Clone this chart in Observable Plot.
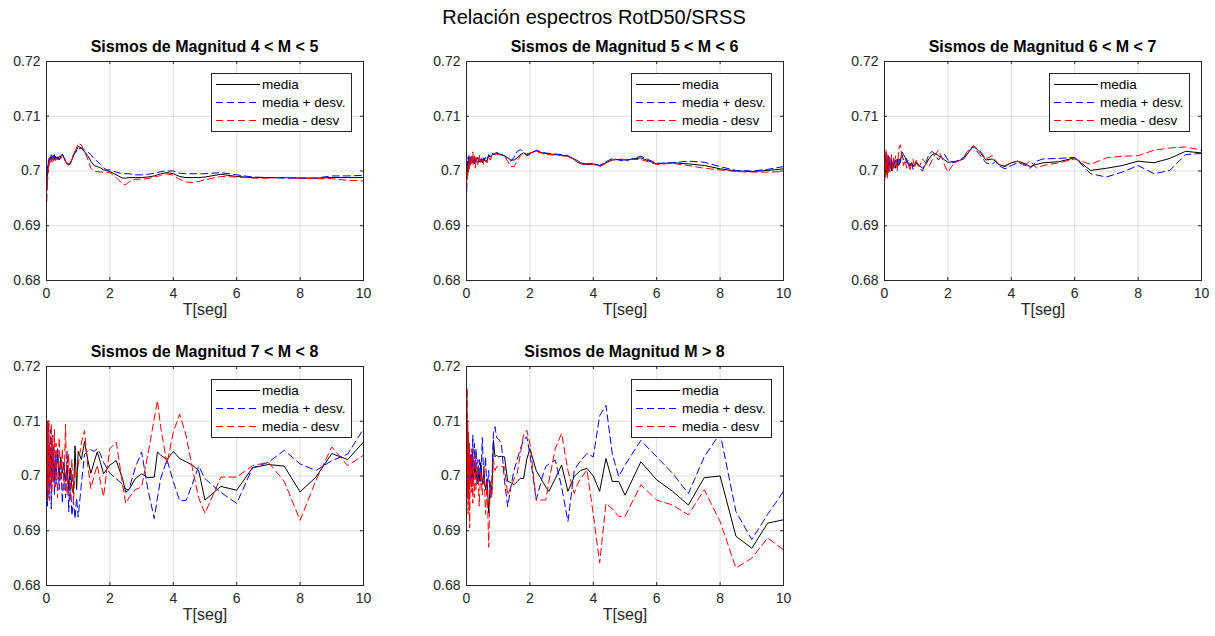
<!DOCTYPE html>
<html><head><meta charset="utf-8">
<script src="https://cdn.jsdelivr.net/npm/d3@7"></script>
<script src="https://cdn.jsdelivr.net/npm/@observablehq/plot@0.6"></script>
<style>
body{margin:0;background:#fff;font-family:"Liberation Sans",Arial,Helvetica,sans-serif;}
#root{position:relative;width:1215px;height:636px;overflow:hidden;background:#fff}
.main{position:absolute;font-size:20px;color:#000;white-space:nowrap;line-height:24px;transform:translateX(-50%)}
.ptitle{position:absolute;font-weight:bold;font-size:16px;color:#000;white-space:nowrap;line-height:18px;transform:translateX(-50%)}
.legend{position:absolute;width:139px;height:57px;border:1px solid #262626;background:#fff;}
.legend svg{position:absolute;left:0;top:0}
</style></head><body><div id="root"></div>
<script>
// ---------- data ----------
const T = [0.01,0.02,0.03,0.04,0.05,0.06,0.075,0.09,0.1,0.12,0.15,0.17,0.2,0.22,0.25,0.28,0.3,0.35,0.4,0.45,0.5,0.55,0.6,0.65,0.7,0.75,0.8,0.85,0.9,0.95,1.0,1.1,1.2,1.3,1.4,1.5,1.6,1.7,1.8,1.9,2.0,2.2,2.4,2.5,2.6,2.8,3.0,3.2,3.4,3.5,3.6,3.8,4.0,4.2,4.4,4.6,4.8,5.0,5.5,6.0,6.5,7.0,7.5,8.0,8.5,9.0,9.5,10];
const xTicks = [0,2,4,6,8,10];
const yTicks = [0.68,0.69,0.7,0.71,0.72];
const seriesNames = ["media","media + desv.","media - desv"];
const mainTitle = "Relación espectros RotD50/SRSS";
const panelTitles = ["Sismos de Magnitud 4 < M < 5","Sismos de Magnitud 5 < M < 6","Sismos de Magnitud 6 < M < 7","Sismos de Magnitud 7 < M < 8","Sismos de Magnitud M > 8"];
const xLabel = "T[seg]";

// M 4-5
const media45 = [0.6965,0.6985,0.6995,0.7000,0.7005,0.7012,0.7018,0.7015,0.7022,0.7025,0.7018,0.7026,0.7022,0.7028,0.7020,0.7027,0.7021,0.7026,0.7020,0.7028,0.7030,0.7025,0.7018,0.7015,0.7012,0.7013,0.7020,0.7028,0.7033,0.7038,0.7045,0.7042,0.7035,0.7028,0.7018,0.7010,0.7008,0.7006,0.7002,0.7001,0.6999,0.6993,0.6987,0.6987,0.6988,0.6988,0.6988,0.6989,0.6991,0.6993,0.6995,0.6997,0.6995,0.6990,0.6988,0.6988,0.6988,0.6989,0.6994,0.6990,0.6988,0.6988,0.6988,0.6987,0.6987,0.6988,0.6988,0.6988];
const mas45 = [0.6975,0.6992,0.7005,0.7012,0.7008,0.7020,0.7025,0.7016,0.7027,0.7022,0.7030,0.7020,0.7028,0.7022,0.7030,0.7020,0.7026,0.7022,0.7027,0.7025,0.7031,0.7024,0.7019,0.7016,0.7012,0.7014,0.7022,0.7030,0.7036,0.7035,0.7040,0.7042,0.7038,0.7035,0.7030,0.7022,0.7018,0.7012,0.7006,0.7002,0.7002,0.6998,0.6995,0.6995,0.6995,0.6993,0.6993,0.6994,0.6996,0.6997,0.6999,0.7000,0.7000,0.6996,0.6995,0.6995,0.6995,0.6995,0.6997,0.6993,0.6989,0.6988,0.6987,0.6987,0.6987,0.6991,0.6991,0.6992];
const menos45 = [0.6945,0.6965,0.6990,0.6985,0.7003,0.6998,0.7015,0.7008,0.7020,0.7015,0.7024,0.7016,0.7025,0.7018,0.7026,0.7019,0.7024,0.7020,0.7025,0.7022,0.7029,0.7023,0.7017,0.7012,0.7010,0.7012,0.7021,0.7030,0.7036,0.7042,0.7050,0.7048,0.7035,0.7022,0.7005,0.6999,0.6999,0.6998,0.6998,0.6998,0.6997,0.6988,0.6976,0.6975,0.6980,0.6985,0.6985,0.6986,0.6989,0.6990,0.6992,0.6995,0.6992,0.6985,0.6980,0.6979,0.6981,0.6984,0.6990,0.6989,0.6987,0.6987,0.6988,0.6987,0.6986,0.6986,0.6983,0.6982];

// M 5-6
const media56 = [0.6985,0.6995,0.7008,0.7015,0.7010,0.7018,0.7012,0.7020,0.7015,0.7025,0.7017,0.7023,0.7015,0.7020,0.7013,0.7022,0.7018,0.7025,0.7016,0.7022,0.7015,0.7024,0.7018,0.7020,0.7028,0.7025,0.7030,0.7032,0.7030,0.7033,0.7032,0.7030,0.7028,0.7024,0.7020,0.7020,0.7024,0.7030,0.7033,0.7030,0.7032,0.7037,0.7033,0.7032,0.7031,0.7030,0.7029,0.7027,0.7022,0.7019,0.7015,0.7012,0.7013,0.7010,0.7015,0.7020,0.7021,0.7020,0.7024,0.7013,0.7015,0.7013,0.7010,0.7004,0.7000,0.6999,0.7001,0.7004];
const mas56 = [0.6995,0.7008,0.7018,0.7012,0.7025,0.7015,0.7028,0.7016,0.7022,0.7012,0.7026,0.7018,0.7026,0.7014,0.7024,0.7016,0.7022,0.7014,0.7024,0.7017,0.7026,0.7018,0.7025,0.7020,0.7030,0.7026,0.7033,0.7030,0.7032,0.7034,0.7033,0.7030,0.7027,0.7022,0.7018,0.7025,0.7036,0.7039,0.7036,0.7028,0.7030,0.7038,0.7034,0.7033,0.7032,0.7031,0.7030,0.7028,0.7020,0.7016,0.7014,0.7013,0.7014,0.7010,0.7017,0.7023,0.7020,0.7018,0.7027,0.7014,0.7015,0.7018,0.7016,0.7008,0.7001,0.7000,0.7003,0.7008];
const menos56 = [0.6965,0.6985,0.7000,0.6992,0.7010,0.6998,0.7015,0.7003,0.7022,0.7008,0.7030,0.7010,0.7035,0.7012,0.7028,0.7005,0.7025,0.7010,0.7030,0.7014,0.7022,0.7012,0.7020,0.7015,0.7025,0.7020,0.7028,0.7030,0.7029,0.7031,0.7030,0.7029,0.7026,0.7018,0.7008,0.7008,0.7018,0.7028,0.7032,0.7031,0.7033,0.7036,0.7032,0.7030,0.7030,0.7029,0.7028,0.7026,0.7021,0.7018,0.7013,0.7011,0.7012,0.7008,0.7014,0.7021,0.7022,0.7021,0.7021,0.7012,0.7014,0.7010,0.7005,0.7002,0.6999,0.6998,0.6998,0.6999];

// M 6-7
const media67 = [0.7005,0.6995,0.7025,0.6992,0.7020,0.7000,0.7015,0.6998,0.7022,0.7002,0.7020,0.7005,0.7018,0.7000,0.7015,0.7008,0.7020,0.7005,0.7022,0.7010,0.7018,0.7035,0.7030,0.7025,0.7022,0.7012,0.7010,0.7015,0.7008,0.7012,0.7017,0.7010,0.7005,0.7012,0.7022,0.7030,0.7032,0.7028,0.7025,0.7020,0.7016,0.7017,0.7020,0.7022,0.7030,0.7046,0.7035,0.7020,0.7022,0.7018,0.7012,0.7008,0.7015,0.7018,0.7014,0.7008,0.7012,0.7015,0.7017,0.7024,0.7001,0.7005,0.7010,0.7018,0.7015,0.7023,0.7036,0.7033];
const mas67 = [0.7020,0.6990,0.7010,0.7035,0.6998,0.7025,0.6995,0.7020,0.7008,0.7028,0.6998,0.7025,0.7005,0.7022,0.7000,0.7018,0.7005,0.7020,0.7008,0.7025,0.7015,0.7030,0.7020,0.7025,0.7015,0.7020,0.7008,0.7018,0.7003,0.7010,0.7015,0.7005,0.7000,0.7015,0.7030,0.7036,0.7030,0.7020,0.7028,0.7030,0.7020,0.7015,0.7022,0.7025,0.7032,0.7044,0.7030,0.7015,0.7012,0.7018,0.7010,0.7004,0.7010,0.7015,0.7012,0.7005,0.7018,0.7022,0.7023,0.7025,0.6995,0.6989,0.6998,0.7010,0.6995,0.7001,0.7030,0.7032];
const menos67 = [0.6985,0.7030,0.6990,0.7015,0.7040,0.6995,0.7028,0.6985,0.7030,0.6995,0.7025,0.6998,0.7020,0.7030,0.7000,0.7025,0.7010,0.7028,0.7000,0.7040,0.7048,0.7025,0.7010,0.7020,0.7005,0.7015,0.7000,0.7012,0.7022,0.7005,0.7020,0.7008,0.7022,0.7015,0.7008,0.7020,0.7030,0.7038,0.7025,0.7010,0.6998,0.7015,0.7020,0.7025,0.7035,0.7046,0.7038,0.7022,0.7028,0.7020,0.7012,0.7010,0.7015,0.7018,0.7010,0.7018,0.7005,0.7010,0.7015,0.7022,0.7012,0.7024,0.7027,0.7028,0.7038,0.7042,0.7044,0.7038];

// M 7-8
const media78 = [0.7010,0.7040,0.6990,0.7035,0.7000,0.7045,0.7005,0.7030,0.6985,0.7040,0.7005,0.7050,0.7010,0.7035,0.6995,0.7030,0.7010,0.7040,0.7000,0.7035,0.7005,0.7025,0.6990,0.7020,0.6975,0.7015,0.6980,0.6968,0.7055,0.6975,0.7045,0.7030,0.7063,0.7030,0.7005,0.7025,0.7044,0.7025,0.7004,0.7012,0.7020,0.7028,0.6995,0.6970,0.6975,0.6995,0.7004,0.6997,0.6998,0.7044,0.7038,0.7030,0.7045,0.7032,0.7026,0.7020,0.7010,0.6956,0.6981,0.6974,0.7015,0.7021,0.7018,0.6971,0.6998,0.7041,0.7030,0.7062];
const mas78 = [0.6960,0.7095,0.6945,0.7080,0.6990,0.7098,0.6960,0.7060,0.6975,0.7085,0.6940,0.7070,0.6990,0.7055,0.6965,0.7040,0.6985,0.7050,0.6975,0.7030,0.6950,0.7020,0.6960,0.7045,0.6935,0.7000,0.6928,0.6955,0.6922,0.6960,0.6925,0.6985,0.7040,0.7045,0.7048,0.7045,0.7050,0.7040,0.7025,0.7015,0.7005,0.6995,0.6985,0.6976,0.6975,0.7015,0.7044,0.6975,0.6922,0.6960,0.6995,0.7030,0.6990,0.6955,0.6955,0.6985,0.7018,0.6995,0.6970,0.6950,0.7015,0.7025,0.7047,0.7022,0.7010,0.7028,0.7040,0.7086];
const menos78 = [0.7050,0.6960,0.7100,0.6975,0.7080,0.6990,0.7102,0.6955,0.7060,0.6985,0.7095,0.6970,0.7075,0.6990,0.7085,0.6980,0.7060,0.6960,0.7070,0.6990,0.7050,0.6975,0.7095,0.6965,0.7040,0.6955,0.7030,0.6950,0.7010,0.7000,0.7020,0.7060,0.7083,0.7020,0.6977,0.7000,0.7020,0.6990,0.6962,0.7010,0.7050,0.7062,0.6985,0.6950,0.6960,0.6975,0.6980,0.7040,0.7105,0.7138,0.7090,0.7022,0.7080,0.7113,0.7075,0.7015,0.6960,0.6932,0.6998,0.6998,0.7019,0.7025,0.6990,0.6919,0.6992,0.7053,0.7019,0.7038];

// M > 8
const media8 = [0.6990,0.7060,0.6975,0.7040,0.6985,0.7050,0.6995,0.7030,0.6980,0.7025,0.7000,0.7035,0.6985,0.7020,0.7005,0.7030,0.6995,0.7015,0.6990,0.7025,0.6985,0.7005,0.6975,0.6995,0.6932,0.6985,0.6975,0.7065,0.7035,0.7038,0.7035,0.7036,0.7035,0.6990,0.6988,0.6984,0.6990,0.6996,0.6995,0.7030,0.7050,0.7010,0.6990,0.6980,0.6972,0.6995,0.7020,0.6972,0.6999,0.7005,0.7010,0.7014,0.7000,0.6972,0.7032,0.6990,0.6990,0.6965,0.7026,0.6993,0.6972,0.6947,0.6997,0.7000,0.6890,0.6868,0.6914,0.6920];
const mas8 = [0.7140,0.6985,0.7100,0.6960,0.7070,0.6990,0.7060,0.6975,0.7050,0.6995,0.7040,0.6980,0.7075,0.6995,0.7060,0.7000,0.7050,0.6985,0.7030,0.6990,0.7070,0.6985,0.7035,0.6970,0.7010,0.6960,0.6985,0.7080,0.7090,0.7070,0.7068,0.7060,0.6990,0.6944,0.6980,0.7011,0.7030,0.7050,0.7065,0.7072,0.7040,0.6956,0.7000,0.7017,0.7022,0.7029,0.6980,0.6917,0.7010,0.7020,0.7028,0.7041,0.7035,0.7110,0.7129,0.7040,0.6999,0.7020,0.7065,0.7035,0.7005,0.6968,0.7035,0.7078,0.6935,0.6884,0.6930,0.6972];
const menos8 = [0.7005,0.7160,0.6960,0.7100,0.6930,0.7080,0.6950,0.7060,0.6905,0.7040,0.6970,0.7050,0.6950,0.7025,0.6960,0.7040,0.6975,0.7030,0.6945,0.7010,0.6965,0.7020,0.6930,0.6990,0.6870,0.6990,0.6960,0.7030,0.7010,0.7017,0.7017,0.7017,0.7017,0.6965,0.6980,0.6995,0.7005,0.7040,0.7075,0.7084,0.7060,0.6956,0.6956,0.6956,0.6990,0.7050,0.7078,0.7010,0.6968,0.6985,0.6995,0.7011,0.6930,0.6841,0.6950,0.6940,0.6926,0.6926,0.6984,0.6956,0.6947,0.6929,0.6975,0.6917,0.6832,0.6850,0.6887,0.6865];

// ---------- layout ----------
const FONT = '"Liberation Sans", Arial, Helvetica, sans-serif';
const IW = 317, IH = 219;
const ML = 46, MR = 14, MT = 10, MB = 45;
const panels = [
  {title: panelTitles[0], media: media45, mas: mas45, menos: menos45, fx: 46, fy: 61},
  {title: panelTitles[1], media: media56, mas: mas56, menos: menos56, fx: 466, fy: 61},
  {title: panelTitles[2], media: media67, mas: mas67, menos: menos67, fx: 884, fy: 61},
  {title: panelTitles[3], media: media78, mas: mas78, menos: menos78, fx: 46, fy: 366},
  {title: panelTitles[4], media: media8, mas: mas8, menos: menos8, fx: 466, fy: 366}
];
const colors = ["#000000", "#0000ff", "#ff0000"];
const dashes = [null, "7,4", "7,4"];

const root = document.getElementById("root");

const mt = document.createElement("div");
mt.className = "main";
mt.textContent = mainTitle;
mt.style.left = "594px";
mt.style.top = "5px";
root.appendChild(mt);

for (const p of panels) {
  const data = T.map((t, i) => ({t, media: p.media[i], mas: p.mas[i], menos: p.menos[i]}));
  const chart = Plot.plot({
    width: IW + ML + MR, height: IH + MT + MB,
    marginLeft: ML, marginRight: MR, marginTop: MT, marginBottom: MB,
    style: {fontFamily: FONT, fontSize: "14px", color: "#262626", background: "transparent", overflow: "visible"},
    x: {domain: [0, 10]},
    y: {domain: [0.68, 0.72]},
    marks: [
      Plot.gridX(xTicks, {stroke: "#000", strokeOpacity: 0.13}),
      Plot.gridY(yTicks, {stroke: "#000", strokeOpacity: 0.13}),
      Plot.line(data, {x: "t", y: "media", stroke: colors[0], strokeWidth: 1}),
      Plot.line(data, {x: "t", y: "mas", stroke: colors[1], strokeWidth: 1, strokeDasharray: dashes[1]}),
      Plot.line(data, {x: "t", y: "menos", stroke: colors[2], strokeWidth: 1, strokeDasharray: dashes[2]}),
      Plot.axisX(xTicks, {tickSize: 0, tickPadding: 8, fontSize: 14, label: null, tickFormat: d => String(d)}),
      Plot.axisY(yTicks, {tickSize: 0, tickPadding: 6, fontSize: 14, label: null, tickFormat: d => String(d)}),
      Plot.tickX(xTicks, {x: d => d, insetTop: IH - 3, stroke: "#262626"}),
      Plot.tickX(xTicks, {x: d => d, insetBottom: IH - 3, stroke: "#262626"}),
      Plot.tickY(yTicks, {y: d => d, insetRight: IW - 3, stroke: "#262626"}),
      Plot.tickY(yTicks, {y: d => d, insetLeft: IW - 3, stroke: "#262626"}),
      Plot.frame({stroke: "#262626"}),
      Plot.text([xLabel], {frameAnchor: "bottom", dy: 34, fontSize: 16, fill: "#262626"})
    ]
  });
  chart.style.position = "absolute";
  chart.style.left = (p.fx - ML) + "px";
  chart.style.top = (p.fy - MT) + "px";
  root.appendChild(chart);

  const t = document.createElement("div");
  t.className = "ptitle";
  t.textContent = p.title;
  t.style.left = (p.fx + IW / 2) + "px";
  t.style.top = (p.fy - 23) + "px";
  root.appendChild(t);

  // legend (kept on an even pixel row so thin coloured strokes stay crisp)
  let lgTop = p.fy + 12;
  if ((lgTop + 1) % 2 !== 0) lgTop += 1;
  const lg = document.createElement("div");
  lg.className = "legend";
  lg.style.left = (p.fx + IW - 152) + "px";
  lg.style.top = lgTop + "px";
  const ns = "http://www.w3.org/2000/svg";
  const svg = document.createElementNS(ns, "svg");
  svg.setAttribute("width", 139);
  svg.setAttribute("height", 57);
  seriesNames.forEach((name, i) => {
    const yy = 10.5 + i * 18;
    const ln = document.createElementNS(ns, "path");
    ln.setAttribute("d", `M4,${yy}H48`);
    ln.setAttribute("fill", "none");
    ln.style.stroke = colors[i];
    ln.style.strokeWidth = "1";
    if (dashes[i]) ln.style.strokeDasharray = dashes[i];
    svg.appendChild(ln);
    const tx = document.createElementNS(ns, "text");
    tx.setAttribute("x", 50); tx.setAttribute("y", yy);
    tx.setAttribute("dy", "0.35em");
    tx.setAttribute("font-size", "13.5px");
    tx.setAttribute("font-family", FONT);
    tx.setAttribute("fill", "#000");
    tx.textContent = name;
    svg.appendChild(tx);
  });
  lg.appendChild(svg);
  root.appendChild(lg);
}
</script></body></html>
